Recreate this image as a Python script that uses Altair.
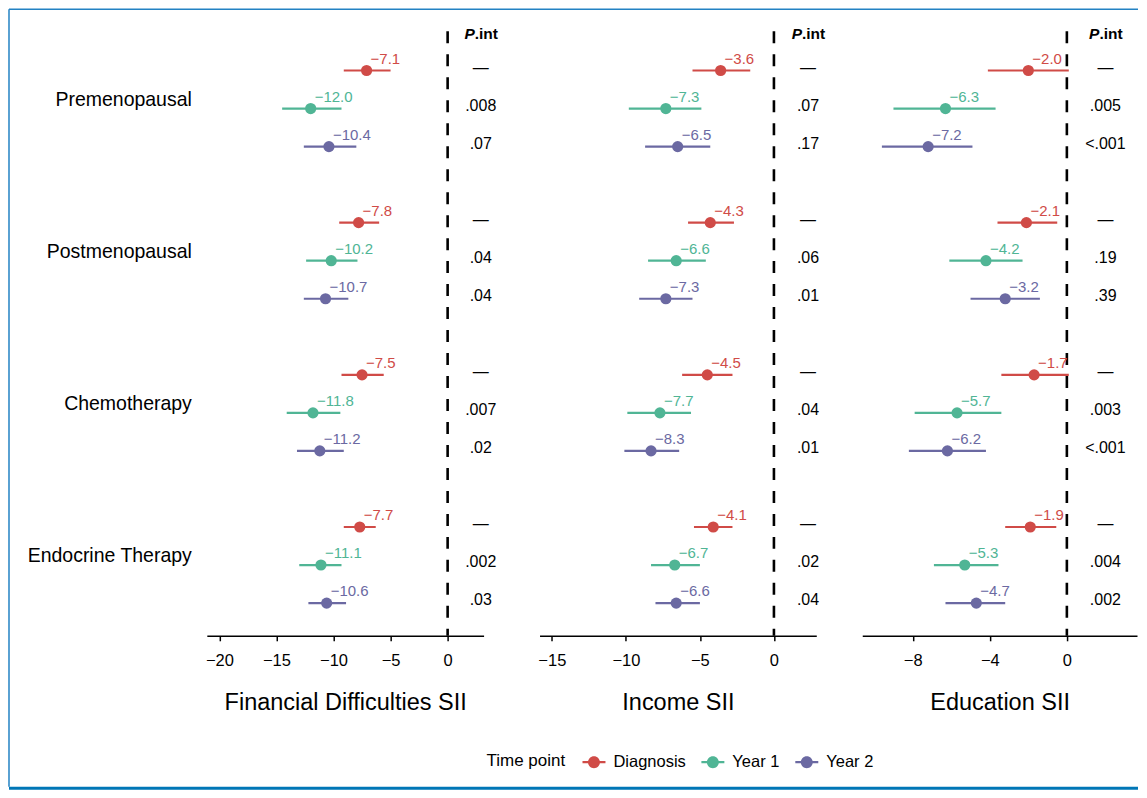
import altair as alt
import pandas as pd

GROUPS = ["Premenopausal", "Postmenopausal", "Chemotherapy", "Endocrine Therapy"]
TIMEPOINTS = ["Diagnosis", "Year 1", "Year 2"]
COLORS = ["#D04B47", "#50B595", "#6B69A2"]

FIN_EST = [-7.1, -12.0, -10.4, -7.8, -10.2, -10.7, -7.5, -11.8, -11.2, -7.7, -11.1, -10.6]
FIN_LO = [-9.1, -14.5, -12.6, -9.5, -12.4, -12.6, -9.3, -14.1, -13.2, -9.1, -13.0, -12.2]
FIN_HI = [-5.0, -9.3, -8.0, -6.0, -7.9, -8.7, -5.6, -9.4, -9.1, -6.3, -9.3, -8.9]
FIN_P = ["—", ".008", ".07", "—", ".04", ".04", "—", ".007", ".02", "—", ".002", ".03"]

INC_EST = [-3.6, -7.3, -6.5, -4.3, -6.6, -7.3, -4.5, -7.7, -8.3, -4.1, -6.7, -6.6]
INC_LO = [-5.5, -9.8, -8.7, -5.8, -8.5, -9.1, -6.2, -9.9, -10.1, -5.4, -8.3, -8.0]
INC_HI = [-1.6, -4.9, -4.3, -2.7, -4.6, -5.5, -2.8, -5.6, -6.4, -2.8, -5.0, -5.0]
INC_P = ["—", ".07", ".17", "—", ".06", ".01", "—", ".04", ".01", "—", ".02", ".04"]

EDU_EST = [-2.0, -6.3, -7.2, -2.1, -4.2, -3.2, -1.7, -5.7, -6.2, -1.9, -5.3, -4.7]
EDU_LO = [-4.1, -9.0, -9.6, -3.6, -6.1, -5.0, -3.4, -7.9, -8.2, -3.2, -6.9, -6.3]
EDU_HI = [0.1, -3.7, -4.9, -0.5, -2.3, -1.4, 0.1, -3.4, -4.2, -0.55, -3.55, -3.2]
EDU_P = ["—", ".005", "<.001", "—", ".19", ".39", "—", ".003", "<.001", "—", ".004", ".002"]

FONT = "Liberation Sans, Arial, Helvetica, sans-serif"
H = 605
YDOM = [-1.03, 14.86]
LEGEND_PATH = ("M-1,-0.1H-0.5V0.1H-1Z M0.5,-0.1H1V0.1H0.5Z "
               "M-0.52,0A0.52,0.52,0,1,1,0.52,0A0.52,0.52,0,1,1,-0.52,0Z")


def rows():
    out = []
    for g, grp in enumerate(GROUPS):
        for t, tp in enumerate(TIMEPOINTS):
            out.append((grp, tp, g * 4 + t))
    return out


def panel(est, lo, hi, pv, title, domain, ticks, px, width, legend=False):
    r = rows()
    df = pd.DataFrame({
        "group": [a for a, _, _ in r],
        "tp": [b for _, b, _ in r],
        "pos": [c for _, _, c in r],
        "est": est, "lo": lo, "hi": hi, "p": pv,
        "lab": ["\u2212" + f"{abs(v):.1f}" for v in est],
    })
    xs = alt.Scale(domain=domain, nice=False, zero=False)
    ys = alt.Scale(domain=YDOM, reverse=True, nice=False, zero=False)
    cs = alt.Scale(domain=TIMEPOINTS, range=COLORS)
    base = alt.Chart(df)
    axis = alt.Axis(values=ticks, format="d", grid=False, domainColor="black",
                    domainWidth=1.5, tickColor="black", tickWidth=1.5, tickSize=5,
                    labelFontSize=16.5, labelColor="black", labelPadding=12,
                    labelFont=FONT, titleFont=FONT, titleFontSize=23.5,
                    titleFontWeight="normal", titleColor="black", titlePadding=21)
    zero = alt.Chart(pd.DataFrame({"z": [0]})).mark_rule(
        strokeDash=[12, 11], strokeWidth=2.6, color="black"
    ).encode(x=alt.X("z:Q", scale=xs, axis=axis, title=title))
    bars = base.mark_rule(strokeWidth=2.2).encode(
        x=alt.X("lo:Q", scale=xs), x2="hi:Q",
        y=alt.Y("pos:Q", scale=ys, axis=None),
        stroke=alt.Stroke("tp:N", scale=cs, legend=None))
    if legend:
        leg = alt.Legend(title="Time point", orient="none", direction="horizontal",
                         legendX=280, legendY=720, titleOrient="left",
                         titleFontSize=17, titleFontWeight="normal", titleColor="black",
                         titleFont=FONT, labelFont=FONT, labelFontSize=16.5,
                         labelColor="black", symbolType=LEGEND_PATH, symbolSize=529,
                         symbolStrokeWidth=0, labelOffset=8, columnPadding=15,
                         titlePadding=17)
        color = alt.Color("tp:N", scale=cs, legend=leg)
    else:
        color = alt.Color("tp:N", scale=cs, legend=None)
    pts = base.mark_point(filled=True, size=125, opacity=1).encode(
        x=alt.X("est:Q", scale=xs), y=alt.Y("pos:Q", scale=ys), color=color)
    labs = base.mark_text(align="left", baseline="middle", dx=4, dy=-12,
                          fontSize=15, font=FONT).encode(
        x=alt.X("est:Q", scale=xs), y=alt.Y("pos:Q", scale=ys), text="lab:N",
        fill=alt.Fill("tp:N", scale=cs, legend=None))
    pvals = base.mark_text(align="center", baseline="middle", dy=-3, fontSize=16,
                           font=FONT, color="black").encode(
        x=alt.datum(px, scale=xs), y=alt.Y("pos:Q", scale=ys), text="p:N")
    hdr = pd.DataFrame({"pos": [-0.97]})
    hp = alt.Chart(hdr).mark_text(align="right", baseline="middle", dx=-6, fontSize=15.5,
                                   font=FONT, fontWeight="bold", fontStyle="italic",
                                   color="black", text="P").encode(
        x=alt.datum(px, scale=xs), y=alt.Y("pos:Q", scale=ys))
    hi_ = alt.Chart(hdr).mark_text(align="left", baseline="middle", dx=-6, fontSize=15.5,
                                    font=FONT, fontWeight="bold", color="black",
                                    text=".int").encode(
        x=alt.datum(px, scale=xs), y=alt.Y("pos:Q", scale=ys))
    return alt.layer(zero, bars, pts, labs, pvals, hp, hi_).properties(width=width, height=H)


p1 = panel(FIN_EST, FIN_LO, FIN_HI, FIN_P, "Financial Difficulties SII",
           [-21.1, 3.15], [-20, -15, -10, -5, 0], 2.9, 277, legend=True)
p2 = panel(INC_EST, INC_LO, INC_HI, INC_P, "Income SII",
           [-15.83, 2.86], [-15, -10, -5, 0], 2.3, 277)
p3 = panel(EDU_EST, EDU_LO, EDU_HI, EDU_P, "Education SII",
           [-10.62, 3.64], [-8, -4, 0], 2.0, 275)

# group labels + decorative frame
gdf = pd.DataFrame({"group": GROUPS, "pos": [g * 4 + 0.77 for g in range(len(GROUPS))]})
ys_l = alt.Scale(domain=YDOM, reverse=True, nice=False, zero=False)
glab = alt.Chart(gdf).mark_text(align="right", baseline="middle", fontSize=19.5,
                                font=FONT, color="black").encode(
    x=alt.value(183), y=alt.Y("pos:Q", scale=ys_l, axis=None), text="group:N")
one = pd.DataFrame({"a": [0]})
FRAME = "#2382C3"
top_line = alt.Chart(one).mark_rule(color=FRAME, strokeWidth=1.5).encode(
    x=alt.value(0), x2=alt.value(1130), y=alt.value(-22))
left_line = alt.Chart(one).mark_rule(color=FRAME, strokeWidth=1.5).encode(
    x=alt.value(0), y=alt.value(-22), y2=alt.value(756))
bar = alt.Chart(one).mark_rect(color="#0076B6").encode(
    x=alt.value(0), x2=alt.value(1130), y=alt.value(756), y2=alt.value(759))
labels = alt.layer(glab, top_line, left_line, bar).properties(width=198, height=H)


def spacer(w):
    return alt.Chart(one).mark_point(opacity=0).encode(
        x=alt.value(0), y=alt.value(0)).properties(width=w, height=H)


chart = alt.hconcat(labels, p1, spacer(56), p2, spacer(46), p3,
                    spacing=0, bounds="flush").resolve_legend(
    color="independent").resolve_scale(color="independent").properties(
    padding=0).configure(font=FONT).configure_view(strokeWidth=0, stroke="transparent")

chart.save("out.html", embed_options={"renderer": "svg", "actions": False})
